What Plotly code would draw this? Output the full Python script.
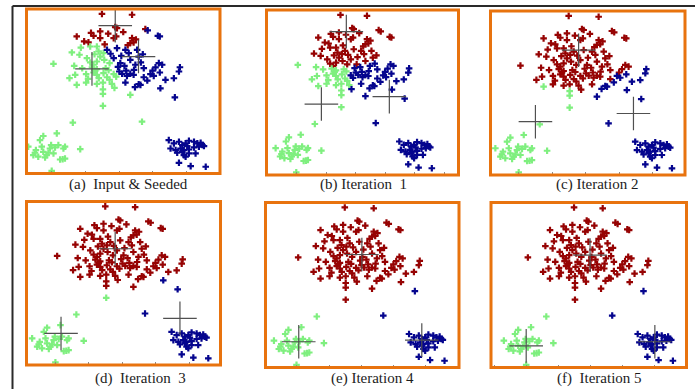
import plotly.graph_objects as go

W, H = 695, 389

# ---- data: one point set, shared by all six panels (x, y in 0..100 units) ----
BLOB_X = [40.6, 56.0, 47.4, 48.3, 62.8, 64.0, 69.2, 70.2, 27.7, 31.5,
          33.7, 36.3, 39.7, 39.7, 46.6, 47.9, 56.0, 56.8, 55.1, 25.2,
          29.1, 34.6, 38.0, 38.9, 41.4, 43.2, 48.3, 52.6, 54.3, 58.6,
          59.4, 15.8, 26.4, 32.9, 34.6, 36.3, 38.0, 39.7, 41.8, 44.5,
          46.6, 50.0, 52.1, 55.1, 57.7, 62.0, 69.7, 71.4, 80.5, 80.0,
          26.9, 32.5, 36.3, 38.0, 38.0, 41.4, 43.2, 46.6, 47.9, 50.9,
          53.4, 55.1, 56.8, 62.0, 65.4, 67.1, 70.2, 73.1, 77.4, 27.7,
          32.5, 38.0, 41.1, 45.7, 52.6, 59.4, 60.3, 55.1, 41.1, 41.1,
          35.5, 37.2, 42.5, 44.0, 48.8, 49.5, 53.0, 57.0, 45.0, 50.5,
          36.8, 42.0, 53.8, 58.0, 60.5, 30.5, 33.5, 63.8, 66.5, 29.8,
          43.8, 51.5, 35.0, 61.5, 24.0, 47.0, 57.5, 68.0, 39.0, 44.5,
          41.1, 70.5, 77.9, 61.1]
BLOB_Y = [97.0, 96.5, 89.0, 88.4, 87.8, 87.0, 83.7, 83.3, 83.3, 80.3,
          79.7, 83.7, 86.4, 82.3, 82.3, 83.3, 82.3, 79.7, 79.3, 73.6,
          72.2, 77.2, 77.2, 74.2, 73.2, 75.2, 76.2, 75.2, 73.2, 75.2,
          71.1, 66.7, 65.4, 70.1, 67.5, 66.1, 68.1, 71.1, 69.1, 67.1,
          70.1, 67.1, 65.4, 69.1, 66.1, 64.0, 67.1, 66.1, 64.6, 62.0,
          60.0, 60.4, 61.4, 63.4, 60.0, 61.0, 58.5, 60.4, 58.9, 60.6,
          59.3, 60.6, 60.0, 58.5, 60.4, 59.3, 61.4, 56.9, 57.9, 53.9,
          55.3, 54.5, 55.3, 54.5, 55.3, 54.3, 53.9, 47.8, 51.2, 48.4,
          64.5, 62.5, 64.0, 62.8, 64.8, 62.0, 62.5, 63.0, 72.8, 71.5,
          72.5, 78.5, 78.0, 81.5, 67.5, 64.0, 57.5, 56.5, 62.5, 76.5,
          85.0, 86.0, 85.5, 72.5, 58.0, 52.0, 52.5, 64.5, 58.0, 57.0,
          41.1, 51.8, 46.3, 31.5]

LL_X = [25.7, 17.5, 10.6, 8.9, 2.9, 6.8, 10.6, 14.0, 16.6, 18.3, 20.9, 21.7, 5.5,
        8.0, 12.3, 15.8, 19.2, 21.7, 29.5, 14.9, 9.8, 13.2, 11.5, 6.3, 20.5, 14.6]
LL_Y = [30.9, 24.4, 22.8, 20.3, 16.3, 14.2, 13.2, 15.2, 15.9, 17.3, 15.2, 16.3, 11.2,
        10.2, 11.2, 12.2, 8.5, 9.1, 14.8, 1.6, 16.3, 12.6, 9.8, 12.6, 8.7, 17.3]

LR_X = [74.8, 77.4, 80.0, 81.7, 83.4, 85.1, 87.7, 89.4, 91.1, 92.0, 75.7, 78.3, 80.8, 82.5,
        85.1, 87.7, 90.2, 92.8, 79.1, 82.5, 85.1, 88.5, 83.4, 80.0, 86.0, 93.7, 81.7, 84.2]
LR_Y = [20.3, 18.3, 19.3, 17.3, 18.3, 19.9, 19.3, 18.3, 18.7, 17.3, 15.2, 14.2, 15.2, 14.2,
        14.6, 15.9, 16.3, 16.7, 12.6, 11.2, 12.2, 12.2, 10.2, 6.5, 4.5, 4.1, 13.2, 16.7]

PANELS = ["a", "b", "c", "d", "e", "f"]
CAPTIONS = ["(a)  Input & Seeded", "(b) Iteration  1", "(c) Iteration 2",
            "(d)  Iteration  3", "(e) Iteration 4", "(f)  Iteration 5"]

# cluster of each blob point in each panel (r = red, g = green, b = blue)
BLOB_LABELS = {
    "a": "rrrrrbbbrr" "rrrrrrrrrg" "gggggbbbbb" "bggggggggg" "bbbbbbbbbb" "gggggggggb"
         "bbbbbbbbbg" "ggggbbbggg" "ggggbbbbbb" "grrrbggbbg" "rrrbggbbgg" "gbbg",
    "b": "rrrrrrrrrr" "rrrrrrrrrr" "rrrrrrrrrr" "rggrrrrrrr" "rrbrbbbbbb" "gggggggbbb"
         "bbbbbbbbbg" "ggggbbbbgg" "ggggbbbbrr" "rrrrbggbbr" "rrrrgbbbgg" "gbbb",
    "c": "rrrrrrrrrr" "rrrrrrrrrr" "rrrrrrrrrr" "rrrrrrrrrr" "rrrrrrrrbb" "rrrrrrrrrr"
         "rrrrbbbbbg" "rrrrrbbbgg" "rrrrrrrrrr" "rrrrrrrbrr" "rrrrrrbrrr" "gbbb",
    "d": "rrrrrrrrrr" "rrrrrrrrrr" "rrrrrrrrrr" "rrrrrrrrrr" "rrrrrrrrrr" "rrrrrrrrrr"
         "rrrrrrrrrr" "rrrrrrrrrr" "rrrrrrrrrr" "rrrrrrrrrr" "rrrrrrrrrr" "gbbb",
    "e": "rrrrrrrrrr" "rrrrrrrrrr" "rrrrrrrrrr" "rrrrrrrrrr" "rrrrrrrrrr" "rrrrrrrrrr"
         "rrrrrrrrrr" "rrrrrrrrrr" "rrrrrrrrrr" "rrrrrrrrrr" "rrrrrrrrrr" "rrbb",
    "f": "rrrrrrrrrr" "rrrrrrrrrr" "rrrrrrrrrr" "rrrrrrrrrr" "rrrrrrrrrr" "rrrrrrrrrr"
         "rrrrrrrrrr" "rrrrrrrrrr" "rrrrrrrrrr" "rrrrrrrrrr" "rrrrrrrrrr" "rrbb",
}

# centroids (red, green, blue) per panel
CENT_X = {"a": [47.4, 35.5, 59.3], "b": [44.0, 29.5, 69.0], "c": [45.7, 23.5, 73.9],
          "d": [45.7, 17.8, 79.1], "e": [49.7, 16.1, 81.6], "f": [49.2, 14.9, 84.0]}
CENT_Y = {"a": [89.9, 63.6, 71.1], "b": [86.9, 43.0, 47.5], "c": [76.1, 32.5, 37.5],
          "d": [71.1, 19.3, 28.5], "e": [68.5, 15.6, 16.6], "f": [68.1, 13.1, 15.6]}

# ---- layout / style ----
X_RANGE = {"a": [2, 101], "b": [-2.4, 109.2], "c": [0.4, 100.4],
           "d": [0, 100], "e": [-1.6, 101.4], "f": [-4, 101]}
FRAMES = {"a": (26.5, 9, 220, 173.5), "b": (266.5, 10, 458.5, 175),
          "c": (490.5, 11, 685, 175), "d": (26.5, 201.5, 220.5, 365),
          "e": (265.5, 202.5, 459, 367.5), "f": (491, 202.5, 686.5, 367.5)}
CAP_POS = {"a": (128, 185), "b": (363, 185), "c": (597, 185),
           "d": (140, 378), "e": (372, 378), "f": (599, 378)}
COLORS = {"r": "#960303", "g": "#7FEF7F", "b": "#05058E"}
ORANGE = "#E8730E"
FONT = "Liberation Serif, Times New Roman, serif"

for p in PANELS:
    assert len(BLOB_LABELS[p]) == len(BLOB_X)

fig = go.Figure()
layout_axes = {}
shapes = []
annotations = []

all_x = BLOB_X + LL_X + LR_X
all_y = BLOB_Y + LL_Y + LR_Y

for i, p in enumerate(PANELS):
    n = i + 1
    xa = "x" if n == 1 else f"x{n}"
    ya = "y" if n == 1 else f"y{n}"
    labels = BLOB_LABELS[p] + "g" * len(LL_X) + "b" * len(LR_X)
    for c in ["r", "g", "b"]:
        xs = [x for x, l in zip(all_x, labels) if l == c]
        ys = [y for y, l in zip(all_y, labels) if l == c]
        fig.add_trace(go.Scatter(
            x=xs, y=ys, mode="markers", xaxis=xa, yaxis=ya, showlegend=False,
            hoverinfo="skip",
            marker=dict(symbol="cross", size=5.5, color=COLORS[c], line=dict(width=0)),
        ))
    fig.add_trace(go.Scatter(
        x=CENT_X[p], y=CENT_Y[p], mode="markers", xaxis=xa, yaxis=ya, showlegend=False,
        hoverinfo="skip",
        marker=dict(symbol="cross-thin", size=24, color="#505050",
                    line=dict(width=1.2, color="#505050")),
    ))

    l, t, r, b = FRAMES[p]
    xkey = "xaxis" if n == 1 else f"xaxis{n}"
    ykey = "yaxis" if n == 1 else f"yaxis{n}"
    layout_axes[xkey] = dict(
        domain=[l / W, r / W], range=X_RANGE[p], anchor=ya,
        showgrid=False, zeroline=False, showline=False, showticklabels=False,
        ticks="inside", ticklen=3, tickwidth=1, tickcolor="#8a8a8a",
        tick0=15, dtick=17.2, fixedrange=True,
    )
    layout_axes[ykey] = dict(
        domain=[1 - b / H, 1 - t / H], range=[0, 100], anchor=xa,
        showgrid=False, zeroline=False, showline=False, showticklabels=False,
        ticks="", fixedrange=True,
    )
    shapes.append(dict(type="rect", xref="paper", yref="paper",
                       x0=l / W, x1=r / W, y0=1 - b / H, y1=1 - t / H,
                       line=dict(color=ORANGE, width=3), layer="above"))
    cx, cy = CAP_POS[p]
    annotations.append(dict(text=CAPTIONS[i], x=cx / W, y=1 - cy / H,
                            xref="paper", yref="paper", showarrow=False,
                            xanchor="center", yanchor="middle",
                            font=dict(family=FONT, size=15, color="#1c1c1c")))

# outer page edge lines
shapes.append(dict(type="line", xref="paper", yref="paper",
                   x0=12.5 / W, x1=1, y0=1 - 6 / H, y1=1 - 6 / H,
                   line=dict(color="#2a2a2a", width=2)))
shapes.append(dict(type="line", xref="paper", yref="paper",
                   x0=12.5 / W, x1=12.5 / W, y0=0, y1=1 - 6 / H,
                   line=dict(color="#2a2a2a", width=2)))

fig.update_layout(
    width=W, height=H, margin=dict(l=0, r=0, t=0, b=0),
    paper_bgcolor="white", plot_bgcolor="white",
    shapes=shapes, annotations=annotations, **layout_axes,
)

fig.write_html("out.html", config={"displayModeBar": False},
               post_script="document.body.style.margin='0';document.body.style.overflow='hidden';")
